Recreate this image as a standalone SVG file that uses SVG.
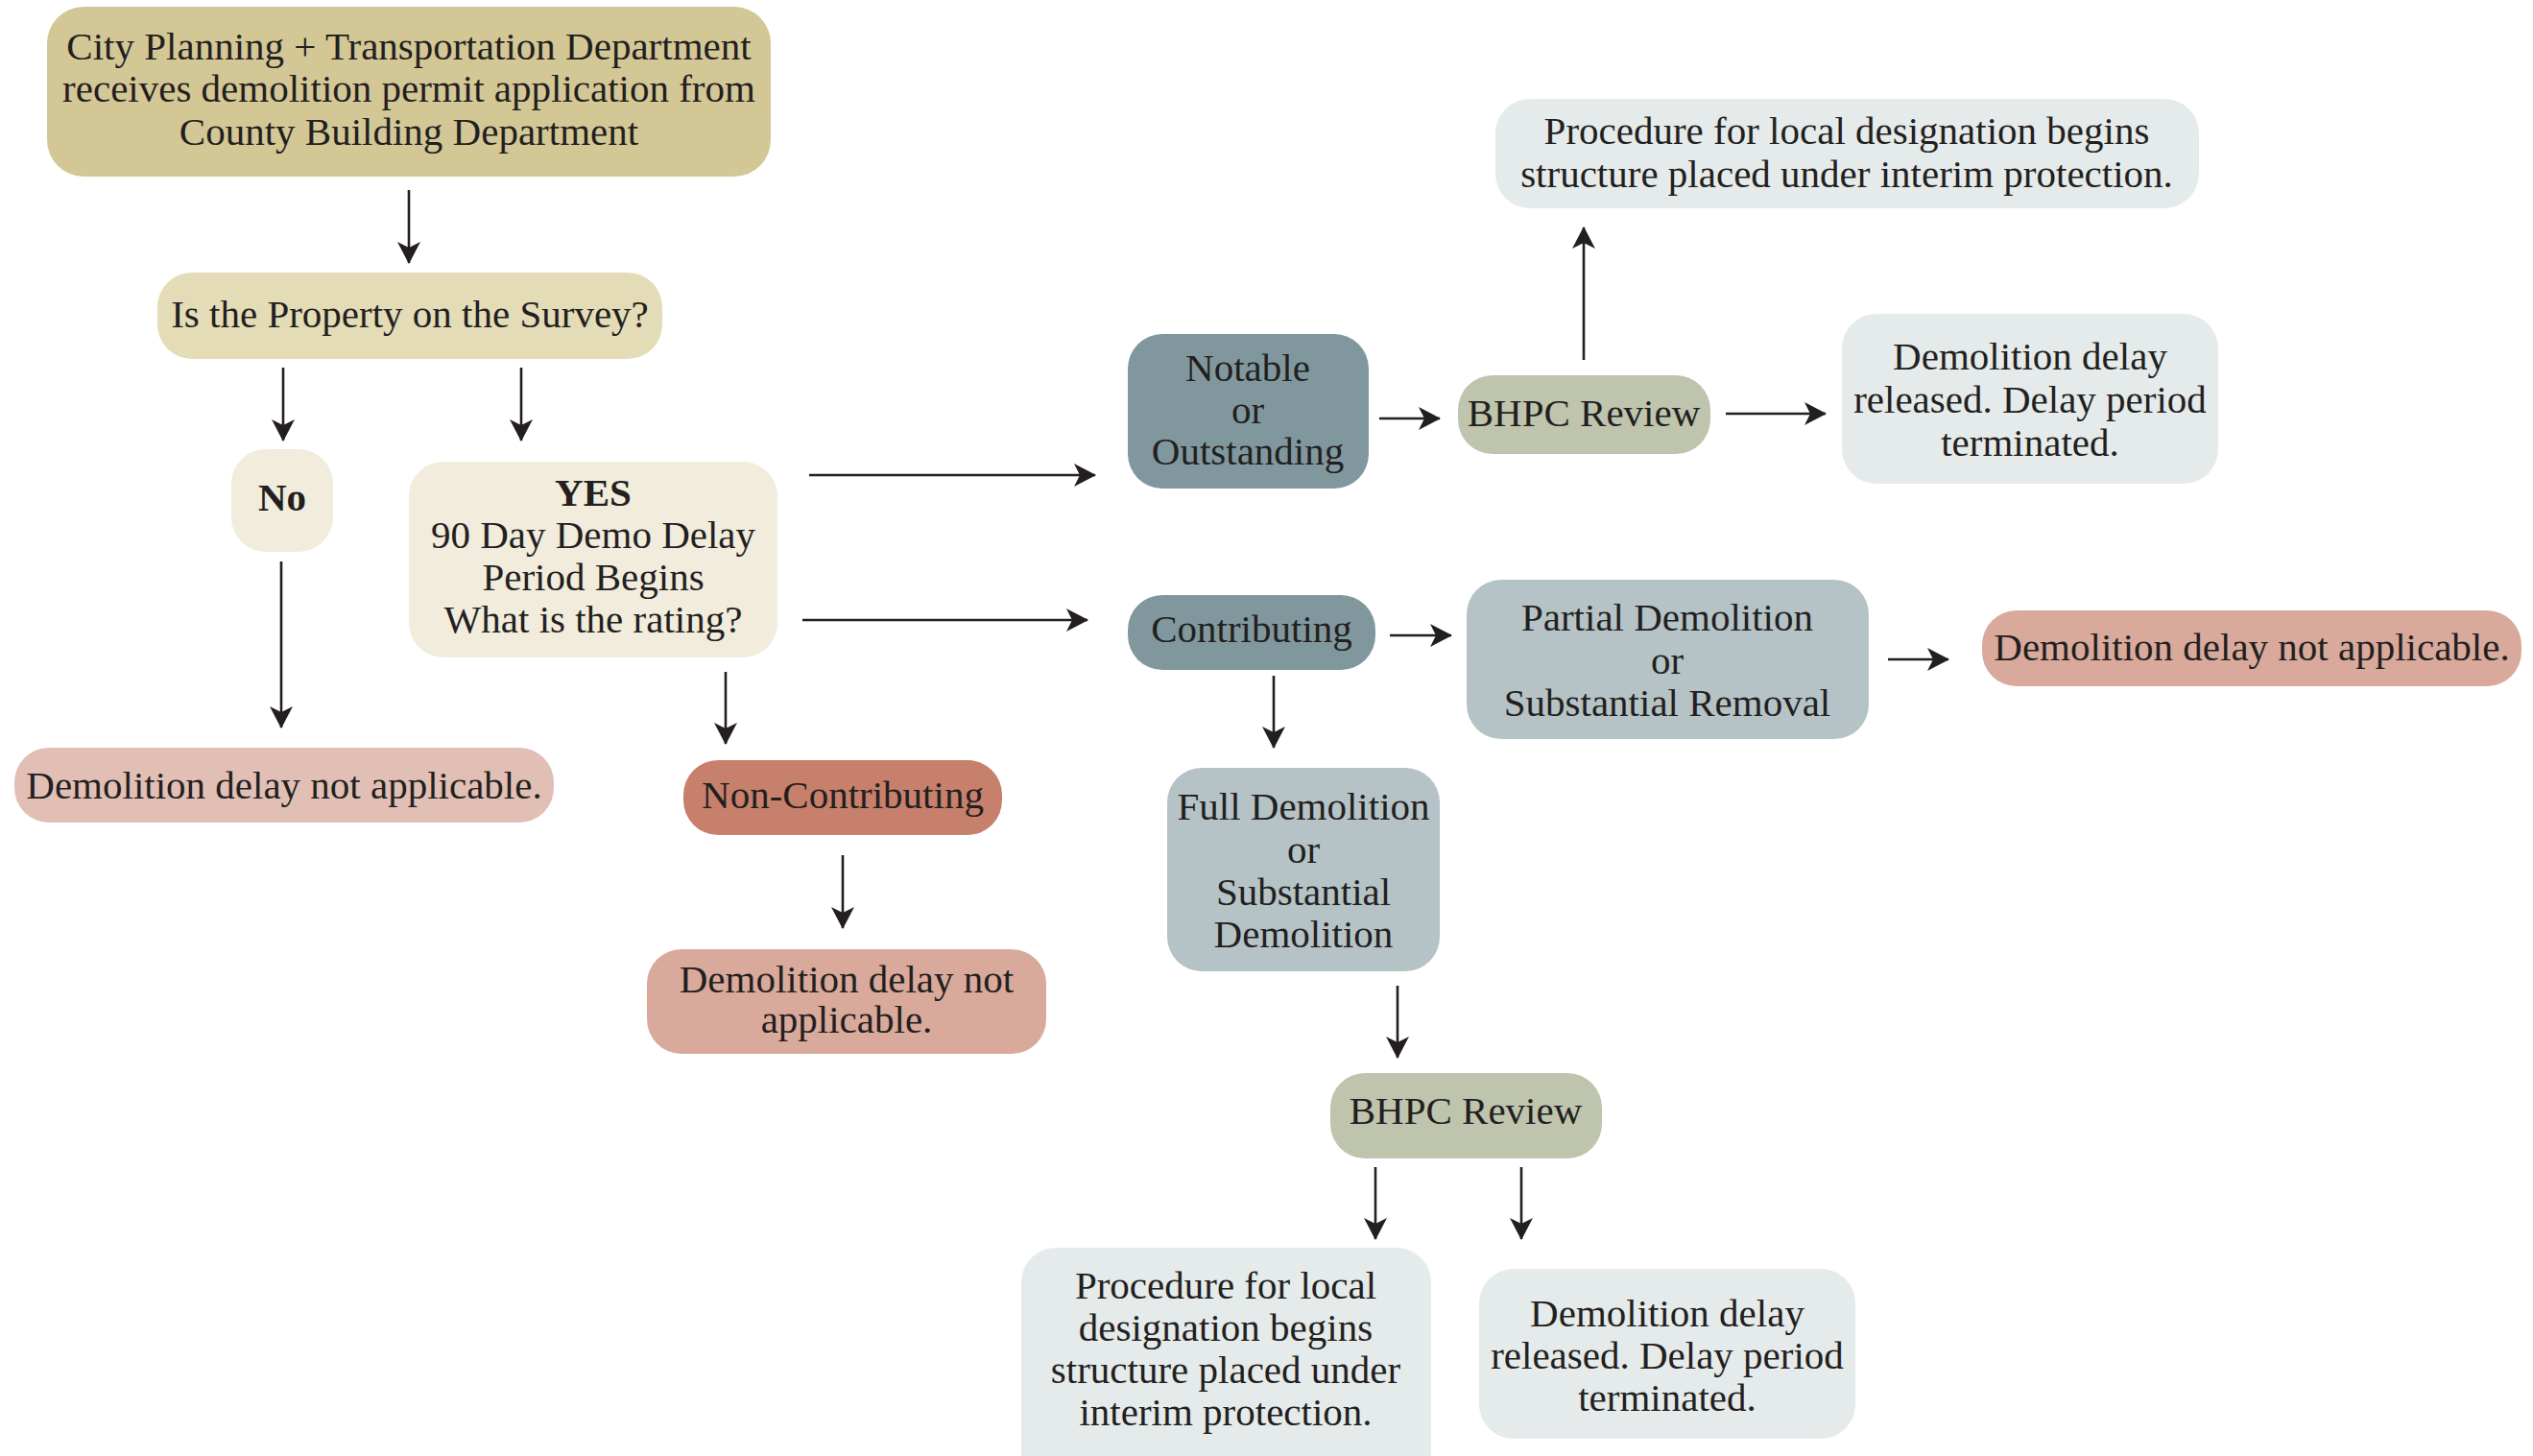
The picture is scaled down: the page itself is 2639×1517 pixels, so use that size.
<svg xmlns="http://www.w3.org/2000/svg" width="2639" height="1517" viewBox="0 0 2639 1517">
<style>
text{font-family:"Liberation Serif","Times New Roman",serif;font-size:41px;fill:#231f20;text-anchor:middle}
.b{font-weight:bold}
.c line{stroke:#231f20;stroke-width:2.6;marker-end:url(#ah)}
.tan{fill:#d4c796}.sand{fill:#e3dcb6}.cream{fill:#f1ecdc}.pink{fill:#e2bfb5}.rust{fill:#c7806b}.rose{fill:#d9a99b}
.slate{fill:#80989d}.sage{fill:#bfc4ad}.blue{fill:#b5c3c6}.mist{fill:#e5eaea}
</style>
<defs>
<marker id="ah" markerUnits="userSpaceOnUse" markerWidth="24" markerHeight="24" viewBox="0 0 24 24" refX="22" refY="12" orient="auto">
<path d="M0,0 L23,12 L0,24 L6,12 Z" fill="#231f20"/>
</marker>
</defs>
<rect width="2639" height="1517" fill="#ffffff"/>
<g class="c" id="connectors">
<line x1="426" y1="198" x2="426" y2="274"/>
<line x1="295" y1="383" x2="295" y2="459"/>
<line x1="543" y1="383" x2="543" y2="459"/>
<line x1="293" y1="585" x2="293" y2="758"/>
<line x1="756" y1="700" x2="756" y2="775"/>
<line x1="878" y1="891" x2="878" y2="967"/>
<line x1="843" y1="495" x2="1141" y2="495"/>
<line x1="836" y1="646" x2="1133" y2="646"/>
<line x1="1437" y1="436" x2="1500" y2="436"/>
<line x1="1650" y1="375" x2="1650" y2="237"/>
<line x1="1798" y1="431" x2="1902" y2="431"/>
<line x1="1448" y1="662" x2="1512" y2="662"/>
<line x1="1967" y1="687" x2="2030" y2="687"/>
<line x1="1327" y1="704" x2="1327" y2="779"/>
<line x1="1456" y1="1027" x2="1456" y2="1102"/>
<line x1="1433" y1="1216" x2="1433" y2="1291"/>
<line x1="1585" y1="1216" x2="1585" y2="1291"/>
</g>
<g id="n1"><rect class="tan" x="49" y="7" width="754" height="177" rx="38"/>
<text x="426" y="62">City Planning + Transportation Department</text>
<text x="426" y="106">receives demolition permit application from</text>
<text x="426" y="151">County Building Department</text></g>
<g id="n2"><rect class="sand" x="164" y="284" width="526" height="90" rx="36"/>
<text x="427" y="341">Is the Property on the Survey?</text></g>
<g id="n3"><rect class="cream" x="241" y="468" width="106" height="107" rx="36"/>
<text class="b" x="294" y="532">No</text></g>
<g id="n4"><rect class="cream" x="426" y="481" width="384" height="204" rx="36"/>
<text class="b" x="618" y="527">YES</text>
<text x="618" y="571">90 Day Demo Delay</text>
<text x="618" y="615">Period Begins</text>
<text x="618" y="659">What is the rating?</text></g>
<g id="n5"><rect class="pink" x="15" y="779" width="562" height="78" rx="36"/>
<text x="296" y="832">Demolition delay not applicable.</text></g>
<g id="n6"><rect class="rust" x="712" y="792" width="332" height="78" rx="36"/>
<text x="878" y="842">Non-Contributing</text></g>
<g id="n7"><rect class="rose" x="674" y="989" width="416" height="109" rx="36"/>
<text x="882" y="1034">Demolition delay not</text>
<text x="882" y="1076">applicable.</text></g>
<g id="n8"><rect class="slate" x="1175" y="348" width="251" height="161" rx="36"/>
<text x="1300" y="397">Notable</text>
<text x="1300" y="441">or</text>
<text x="1300" y="484">Outstanding</text></g>
<g id="n9"><rect class="sage" x="1519" y="391" width="263" height="82" rx="36"/>
<text x="1650" y="444">BHPC Review</text></g>
<g id="n10"><rect class="mist" x="1558" y="103" width="733" height="114" rx="36"/>
<text x="1924" y="150">Procedure for local designation begins</text>
<text x="1924" y="195">structure placed under interim protection.</text></g>
<g id="n11"><rect class="mist" x="1919" y="327" width="392" height="177" rx="36"/>
<text x="2115" y="385">Demolition delay</text>
<text x="2115" y="430">released. Delay period</text>
<text x="2115" y="475">terminated.</text></g>
<g id="n12"><rect class="slate" x="1175" y="620" width="258" height="78" rx="36"/>
<text x="1304" y="669">Contributing</text></g>
<g id="n13"><rect class="blue" x="1528" y="604" width="419" height="166" rx="36"/>
<text x="1737" y="657">Partial Demolition</text>
<text x="1737" y="702">or</text>
<text x="1737" y="746">Substantial Removal</text></g>
<g id="n14"><rect class="rose" x="2065" y="636" width="562" height="79" rx="36"/>
<text x="2346" y="688">Demolition delay not applicable.</text></g>
<g id="n15"><rect class="blue" x="1216" y="800" width="284" height="212" rx="36"/>
<text x="1358" y="854">Full Demolition</text>
<text x="1358" y="899">or</text>
<text x="1358" y="943">Substantial</text>
<text x="1358" y="987">Demolition</text></g>
<g id="n16"><rect class="sage" x="1386" y="1118" width="283" height="89" rx="36"/>
<text x="1527" y="1171">BHPC Review</text></g>
<g id="n17"><rect class="mist" x="1064" y="1300" width="427" height="250" rx="36"/>
<text x="1277" y="1353">Procedure for local</text>
<text x="1277" y="1397">designation begins</text>
<text x="1277" y="1441">structure placed under</text>
<text x="1277" y="1485">interim protection.</text></g>
<g id="n18"><rect class="mist" x="1541" y="1322" width="392" height="177" rx="36"/>
<text x="1737" y="1382">Demolition delay</text>
<text x="1737" y="1426">released. Delay period</text>
<text x="1737" y="1470">terminated.</text></g>
</svg>
